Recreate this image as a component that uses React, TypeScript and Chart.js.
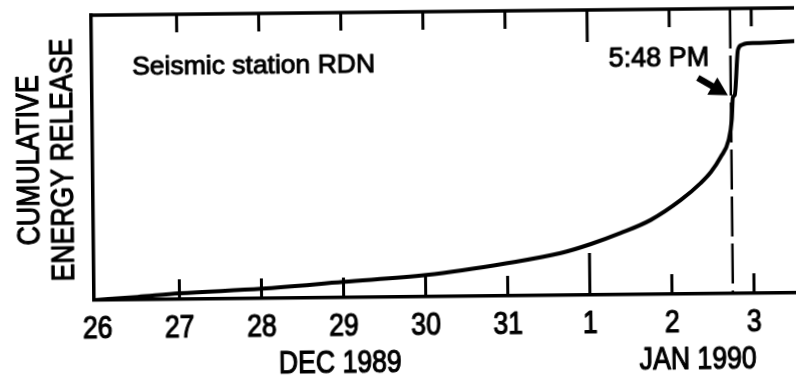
import React, { useEffect, useRef } from 'react';
import { Chart, registerables } from 'chart.js';

Chart.register(...registerables);

// ---- data (x = days since 26 Dec 1989) ----
const dayTicks = [0, 1, 2, 3, 4, 5, 6, 7, 8];
const dayLabels = ['26', '27', '28', '29', '30', '31', '1', '2', '3'];
const monthLabels = ['DEC 1989', 'JAN 1990'];
const monthCenters = [2.95, 7.31];
const majorTickDay = 6;

const days = [-0.05, 0.49, 1.0, 2.0, 3.0, 4.01, 5.0, 5.65, 6.02, 6.38, 6.75, 7.12, 7.365, 7.49, 7.61, 7.71, 7.75, 7.767, 7.79, 7.834, 7.883, 7.944, 8.04, 8.56];
const energy = [0, 1.0, 2.1, 3.4, 5.5, 7.6, 11.5, 14.8, 17.9, 21.6, 26.1, 33.0, 38.9, 42.7, 47.9, 53.9, 60.9, 68.9, 69.6, 85.4, 87.2, 87.7, 87.8, 88.4];

const eruptionDay = 7.742; // 2 Jan 1990, 5:48 PM
const eruptionLabel = '5:48 PM';
const stationLabel = 'Seismic station RDN';
const yTitle = ['CUMULATIVE', 'ENERGY RELEASE'];

// annotation anchors (data coordinates)
const stationAnchor = { x: 0.452, y: 79.1 };
const timeLabelAnchor = { x: 6.87, y: 83.3 };
const arrowTail = { x: 7.342, y: 75.8 };
const arrowTip = { x: 7.706, y: 69.6 };

const REGULAR = '"Liberation Sans", Arial, Helvetica, sans-serif';
const NARROW_SIZE = 31;
const NARROW_SCALE = 0.86;

function drawText(ctx: CanvasRenderingContext2D, text: string, x: number, y: number, hScale: number, rot = 0) {
  ctx.save();
  ctx.translate(x, y);
  if (rot) ctx.rotate(rot);
  ctx.scale(hScale, 1);
  ctx.fillText(text, 0, 0);
  ctx.lineWidth = 1.0 / hScale;
  ctx.lineJoin = 'round';
  ctx.strokeText(text, 0, 0);
  ctx.restore();
}

const overlayPlugin = {
  id: 'overlay',
  beforeDatasetsDraw(chart: any) {
    const { ctx, chartArea, scales } = chart;
    const x = scales.x;
    ctx.save();
    ctx.strokeStyle = '#000';
    ctx.lineWidth = 2.5;
    ctx.setLineDash([40, 7]);
    const ex = x.getPixelForValue(eruptionDay);
    ctx.beginPath();
    ctx.moveTo(ex, chartArea.top);
    ctx.lineTo(ex, chartArea.bottom);
    ctx.stroke();
    ctx.restore();
  },
  afterDatasetsDraw(chart: any) {
    const { ctx, chartArea, scales } = chart;
    const x = scales.x;
    const y = scales.y;
    ctx.save();
    ctx.strokeStyle = '#000';
    ctx.fillStyle = '#000';
    ctx.setLineDash([]);
    // top frame line
    ctx.lineWidth = 3.5;
    ctx.beginPath();
    ctx.moveTo(chartArea.left - 1.75, chartArea.top);
    ctx.lineTo(chartArea.right, chartArea.top);
    ctx.stroke();
    // inward tick marks on bottom and top
    ctx.lineWidth = 3;
    dayTicks.forEach((d) => {
      if (d === 0) return;
      const px = x.getPixelForValue(d);
      const major = d === majorTickDay;
      ctx.beginPath();
      ctx.moveTo(px, chartArea.bottom);
      ctx.lineTo(px, chartArea.bottom - (major ? 42 : 20));
      ctx.moveTo(px, chartArea.top);
      ctx.lineTo(px, chartArea.top + (major ? 32 : 18));
      ctx.stroke();
    });
    // tick labels (condensed Helvetica look)
    ctx.font = `${NARROW_SIZE}px ${REGULAR}`;
    ctx.textAlign = 'center';
    ctx.textBaseline = 'middle';
    dayTicks.forEach((d, i) => {
      drawText(ctx, dayLabels[i], x.getPixelForValue(d), chartArea.bottom + 29, NARROW_SCALE);
    });
    // month labels
    monthLabels.forEach((t, i) => {
      drawText(ctx, t, x.getPixelForValue(monthCenters[i]), chartArea.bottom + 66, NARROW_SCALE);
    });
    // y axis title (rotated, two lines)
    const yMid = (chartArea.top + chartArea.bottom) / 2 + 2;
    drawText(ctx, yTitle[0], chartArea.left - 63, yMid, NARROW_SCALE, -Math.PI / 2);
    drawText(ctx, yTitle[1], chartArea.left - 29, yMid, NARROW_SCALE, -Math.PI / 2);
    // station label
    ctx.font = `26.5px ${REGULAR}`;
    ctx.textAlign = 'left';
    ctx.textBaseline = 'alphabetic';
    drawText(ctx, stationLabel, x.getPixelForValue(stationAnchor.x), y.getPixelForValue(stationAnchor.y), 1);
    // time label
    ctx.font = `27px ${REGULAR}`;
    ctx.textAlign = 'center';
    drawText(ctx, eruptionLabel, x.getPixelForValue(timeLabelAnchor.x), y.getPixelForValue(timeLabelAnchor.y) + 9.7, 1);
    // arrow
    const ax0 = x.getPixelForValue(arrowTail.x);
    const ay0 = y.getPixelForValue(arrowTail.y);
    const ax1 = x.getPixelForValue(arrowTip.x);
    const ay1 = y.getPixelForValue(arrowTip.y);
    const dx = ax1 - ax0;
    const dy = ay1 - ay0;
    const len = Math.hypot(dx, dy);
    const ux = dx / len;
    const uy = dy / len;
    const nx = -uy;
    const ny = ux;
    const headLen = 18;
    const headW = 10;
    const bx = ax1 - ux * headLen;
    const by = ay1 - uy * headLen;
    ctx.lineWidth = 6.5;
    ctx.lineCap = 'butt';
    ctx.beginPath();
    ctx.moveTo(ax0, ay0);
    ctx.lineTo(bx + ux * 2, by + uy * 2);
    ctx.stroke();
    ctx.beginPath();
    ctx.moveTo(ax1, ay1);
    ctx.lineTo(bx + nx * headW, by + ny * headW);
    ctx.lineTo(bx - nx * headW, by - ny * headW);
    ctx.closePath();
    ctx.fill();
    ctx.restore();
  },
};

export default function App() {
  const canvasRef = useRef<HTMLCanvasElement | null>(null);

  useEffect(() => {
    const canvas = canvasRef.current;
    if (!canvas) return;
    const chart = new Chart(canvas, {
      type: 'line',
      data: {
        datasets: [
          {
            data: days.map((d, i) => ({ x: d, y: energy[i] })),
            borderColor: '#000',
            borderWidth: 4,
            pointRadius: 0,
            fill: false,
            cubicInterpolationMode: 'monotone',
          },
        ],
      },
      options: {
        animation: false,
        responsive: false,
        devicePixelRatio: 1,
        layout: { padding: { left: 93, right: 0, top: 12, bottom: 83 } },
        plugins: { legend: { display: false }, tooltip: { enabled: false } },
        scales: {
          x: {
            type: 'linear',
            min: -0.04,
            max: 8.524,
            afterBuildTicks: (s: any) => {
              s.ticks = dayTicks.map((v) => ({ value: v }));
            },
            ticks: { display: false },
            grid: { display: false, drawTicks: false },
            border: { display: true, color: '#000', width: 3.5 },
          },
          y: {
            type: 'linear',
            min: 0,
            max: 100,
            ticks: { display: false },
            grid: { display: false, drawTicks: false },
            border: { display: true, color: '#000', width: 3.5 },
          },
        },
      },
      plugins: [overlayPlugin],
    } as any);
    return () => chart.destroy();
  }, []);

  return (
    <div
      style={{
        position: 'fixed',
        left: 0,
        top: 0,
        width: 796,
        height: 380,
        transform: 'rotate(-0.6deg)',
        transformOrigin: '398px 190px',
      }}
    >
      <canvas ref={canvasRef} width={796} height={380} style={{ display: 'block', width: 796, height: 380 }} />
    </div>
  );
}
